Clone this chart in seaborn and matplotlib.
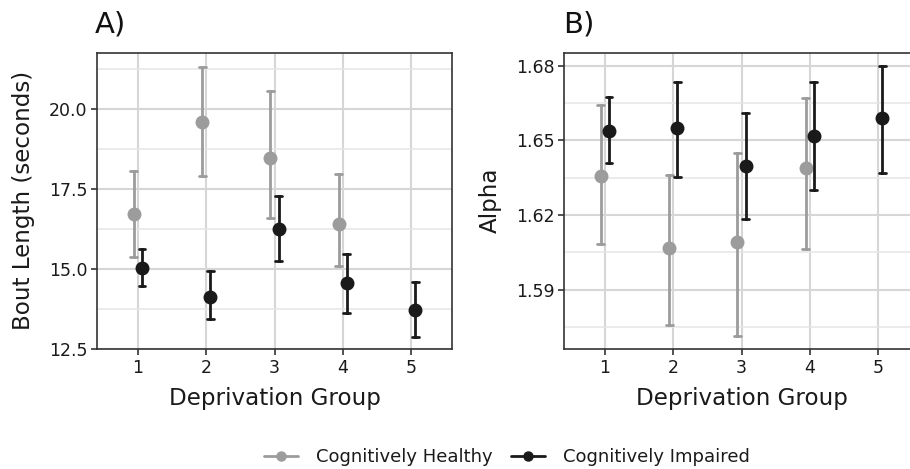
import numpy as np
import pandas as pd
import matplotlib
matplotlib.use("Agg")
import matplotlib.pyplot as plt
from matplotlib.ticker import MultipleLocator, FormatStrFormatter
from matplotlib.lines import Line2D
import seaborn as sns

# ---- data ----
groups = ["1", "2", "3", "4", "5"]
status = ["Cognitively Healthy", "Cognitively Impaired"]

bout_healthy_mean = [16.73, 19.60, 18.47, 16.41]
bout_healthy_lo = [15.38, 17.91, 16.58, 15.09]
bout_healthy_hi = [18.05, 21.32, 20.57, 17.96]
bout_impaired_mean = [15.04, 14.11, 16.26, 14.55, 13.72]
bout_impaired_lo = [14.47, 13.44, 15.26, 13.61, 12.89]
bout_impaired_hi = [15.61, 14.94, 17.29, 15.46, 14.60]

alpha_healthy_mean = [1.6358, 1.6067, 1.6090, 1.6391]
alpha_healthy_lo = [1.6085, 1.5759, 1.5715, 1.6063]
alpha_healthy_hi = [1.6641, 1.6359, 1.6450, 1.6672]
alpha_impaired_mean = [1.6536, 1.6548, 1.6396, 1.6519, 1.6590]
alpha_impaired_lo = [1.6409, 1.6351, 1.6185, 1.6299, 1.6370]
alpha_impaired_hi = [1.6673, 1.6734, 1.6610, 1.6733, 1.6797]


def long_table(h_mean, h_lo, h_hi, i_mean, i_lo, i_hi):
    rows = []
    for g, m, lo, hi in zip(groups, h_mean, h_lo, h_hi):
        for v in (lo, m, hi):
            rows.append((g, status[0], v))
    for g, m, lo, hi in zip(groups, i_mean, i_lo, i_hi):
        for v in (lo, m, hi):
            rows.append((g, status[1], v))
    return pd.DataFrame(rows, columns=["group", "status", "value"])


df_bout = long_table(bout_healthy_mean, bout_healthy_lo, bout_healthy_hi,
                     bout_impaired_mean, bout_impaired_lo, bout_impaired_hi)
df_alpha = long_table(alpha_healthy_mean, alpha_healthy_lo, alpha_healthy_hi,
                      alpha_impaired_mean, alpha_impaired_lo, alpha_impaired_hi)

palette = {status[0]: "#9c9c9c", status[1]: "#1a1a1a"}
text_color = "#1a1a1a"

sns.set_theme(style="whitegrid")
plt.rcParams["font.family"] = ["DejaVu Sans"]

W, H = 910, 469
fig = plt.figure(figsize=(W / 100, H / 100), dpi=100)

axA = fig.add_axes([97 / W, (H - 349) / H, 355 / W, 296 / H])
axB = fig.add_axes([564 / W, (H - 349) / H, 355 / W, 296 / H])


def draw(ax, df, ylab, ylim, major, fmt):
    sns.pointplot(data=df, x="group", y="value", hue="status",
                  order=groups, hue_order=status, palette=palette,
                  estimator="median",
                  errorbar=lambda x: (np.min(x), np.max(x)),
                  dodge=0.12, linestyle="none", capsize=0.1,
                  markersize=8, err_kws={"linewidth": 2.0},
                  ax=ax)
    ax.set_xlim(-0.6, 4.6)
    ax.set_ylim(*ylim)
    ax.yaxis.set_major_locator(MultipleLocator(major))
    ax.yaxis.set_minor_locator(MultipleLocator(major / 2))
    ax.yaxis.set_major_formatter(FormatStrFormatter(fmt))
    ax.grid(True, which="major", color="#d6d6d6", linewidth=1.5)
    ax.grid(True, which="minor", axis="y", color="#e6e6e6", linewidth=1.1)
    ax.set_axisbelow(True)
    for s in ax.spines.values():
        s.set_color("#333333")
        s.set_linewidth(1.2)
        s.set_visible(True)
    ax.tick_params(axis="both", which="major", length=4.0, width=1.2,
                   color="#333333", labelsize=12.5, labelcolor=text_color,
                   direction="out", left=True, bottom=True, pad=3)
    ax.tick_params(axis="y", which="minor", length=0)
    ax.set_xlabel("Deprivation Group", fontsize=16.6, color=text_color)
    ax.set_ylabel(ylab, fontsize=16.6, color=text_color)
    ax.xaxis.label.set_va("center")
    ax.yaxis.label.set_va("center")
    ax.xaxis.set_label_coords(0.5, -0.168)
    ax.yaxis.set_label_coords(-0.208, 0.503)
    ax.set_facecolor("white")


draw(axA, df_bout, "Bout Length (seconds)", (12.5, 21.75), 2.5, "%.1f")
draw(axB, df_alpha, "Alpha", (1.5662, 1.6851), 0.03, "%.2f")

for a in (axA, axB):
    if a.get_legend() is not None:
        a.get_legend().remove()

handles = [Line2D([], [], color=palette[s], marker="o", markersize=6.5,
                  linewidth=2.0) for s in status]
fig.legend(handles, status, loc="center", bbox_to_anchor=(0.557, 1 - 457 / H),
           ncol=2, frameon=False, fontsize=13, handlelength=1.9,
           columnspacing=1.0, handletextpad=1.0, labelcolor=text_color)

fig.text(95 / W, 1 - 24 / H, "A)", fontsize=21, va="center", ha="left", color="#111111")
fig.text(563 / W, 1 - 24 / H, "B)", fontsize=21, va="center", ha="left", color="#111111")

fig.savefig("out.png", dpi=100, facecolor="white")
